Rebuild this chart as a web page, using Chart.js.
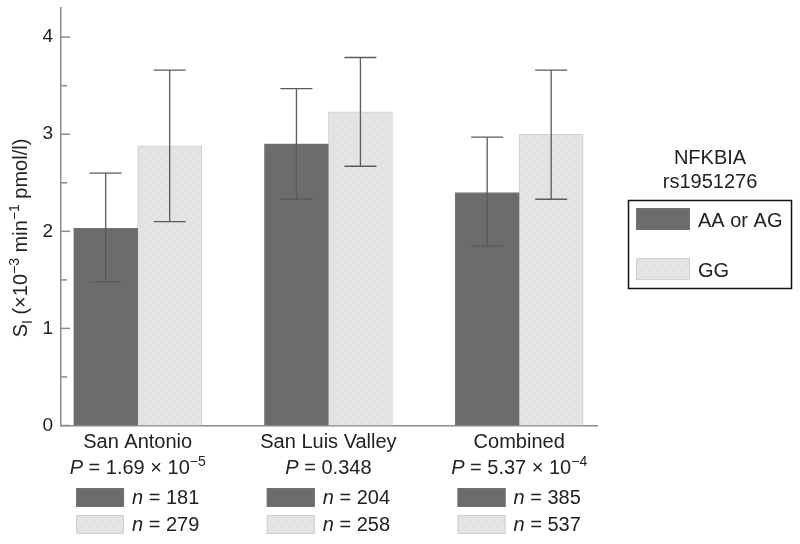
<!DOCTYPE html>
<html><head><meta charset="utf-8">
<script src="https://cdn.jsdelivr.net/npm/chart.js@4"></script>
<style>html,body{margin:0;padding:0;background:#fff}canvas{display:block}</style>
</head><body>
<canvas id="c" width="800" height="544"></canvas>
<script>
// ---------- data ----------
const categories = ['San Antonio', 'San Luis Valley', 'Combined'];
const pValues = [1.69e-5, 0.348, 5.37e-4];
const seriesLabels = ['AA or AG', 'GG'];
const legendTitle = ['NFKBIA', 'rs1951276'];
const meanAA = [2.03, 2.90, 2.40];
const lowAA  = [1.48, 2.33, 1.85];
const highAA = [2.60, 3.47, 2.97];
const meanGG = [2.88, 3.23, 3.00];
const lowGG  = [2.10, 2.67, 2.33];
const highGG = [3.66, 3.79, 3.66];
const nAA = [181, 204, 385];
const nGG = [279, 258, 537];
const yTicks = [0, 1, 2, 3, 4];

// ---------- styles ----------
const FONT = '"Liberation Sans", Arial, Helvetica, sans-serif';
const DARK = '#6c6c6c';
const DARK_BORDER = '#737373';
const LIGHT_BORDER = '#d0d0d0';
const AXIS = '#8c8c8c';

function hatch() {
  const p = document.createElement('canvas'); p.width = 8; p.height = 8;
  const g = p.getContext('2d');
  g.fillStyle = '#e4e4e4'; g.fillRect(0, 0, 8, 8);
  g.strokeStyle = 'rgba(210,210,210,0.35)'; g.lineWidth = 1;
  g.beginPath(); g.moveTo(-1, 9); g.lineTo(9, -1); g.stroke();
  return g.createPattern(p, 'repeat');
}
const LIGHT = hatch();

function fontFor(s, size) {
  return `${s.it ? 'italic ' : ''}${(s.sup || s.sub) ? Math.round(size * 0.68) : size}px ${FONT}`;
}
function richWidth(ctx, segs, size) {
  let w = 0;
  segs.forEach(s => { ctx.font = fontFor(s, size); w += ctx.measureText(s.t).width; });
  return w;
}
function drawRich(ctx, segs, x, y, align, size) {
  const w = richWidth(ctx, segs, size);
  let cx = align === 'center' ? x - w / 2 : align === 'right' ? x - w : x;
  ctx.textAlign = 'left'; ctx.textBaseline = 'alphabetic';
  segs.forEach(s => {
    ctx.font = fontFor(s, size);
    const dy = s.sup ? -size * 0.42 : s.sub ? size * 0.25 : 0;
    ctx.fillText(s.t, cx, y + dy);
    cx += ctx.measureText(s.t).width;
  });
  return w;
}
function pSegs(p) {
  if (p < 0.01) {
    const [m, e] = p.toExponential(2).split('e');
    return [{t: 'P', it: true}, {t: ' = ' + m + ' \u00d7 10'}, {t: '\u2212' + String(Math.abs(+e)), sup: true}];
  }
  return [{t: 'P', it: true}, {t: ' = ' + String(p)}];
}

const decor = {
  id: 'decor',
  afterDatasetsDraw(chart) {
    const ctx = chart.ctx, ys = chart.scales.y;
    const lows = [lowAA, lowGG], highs = [highAA, highGG];
    ctx.save();
    ctx.strokeStyle = '#5a5a5a'; ctx.lineWidth = 1.3;
    [0, 1].forEach(di => {
      chart.getDatasetMeta(di).data.forEach((el, i) => {
        const yl = ys.getPixelForValue(lows[di][i]), yh = ys.getPixelForValue(highs[di][i]);
        const hw = el.width / 4;
        ctx.beginPath();
        ctx.moveTo(el.x, yl); ctx.lineTo(el.x, yh);
        ctx.moveTo(el.x - hw, yl); ctx.lineTo(el.x + hw, yl);
        ctx.moveTo(el.x - hw, yh); ctx.lineTo(el.x + hw, yh);
        ctx.stroke();
      });
    });
    ctx.restore();
  },
  afterDraw(chart) {
    const ctx = chart.ctx, xs = chart.scales.x, ys = chart.scales.y;
    const left = chart.chartArea.left;
    ctx.save();
    // inward y ticks
    ctx.strokeStyle = AXIS; ctx.lineWidth = 1.5;
    yTicks.forEach((v, k) => {
      const py = ys.getPixelForValue(v);
      ctx.beginPath(); ctx.moveTo(left, py); ctx.lineTo(left + 9, py); ctx.stroke();
      if (k < yTicks.length - 1) {
        const pm = ys.getPixelForValue((v + yTicks[k + 1]) / 2);
        ctx.beginPath(); ctx.moveTo(left, pm); ctx.lineTo(left + 6, pm); ctx.stroke();
      }
    });
    // y title (rotated)
    ctx.fillStyle = '#222';
    ctx.save();
    ctx.translate(27, 238); ctx.rotate(-Math.PI / 2);
    drawRich(ctx, [{t: 'S'}, {t: 'I', sub: true}, {t: ' (\u00d710'}, {t: '\u22123', sup: true},
      {t: ' min'}, {t: '\u22121', sup: true}, {t: ' pmol/l)'}], 0, 0, 'center', 20);
    ctx.restore();
    // category labels
    categories.forEach((c, i) => {
      const cx = xs.getPixelForValue(i);
      ctx.fillStyle = '#222';
      ctx.font = `20px ${FONT}`; ctx.textAlign = 'center'; ctx.textBaseline = 'alphabetic';
      ctx.fillText(c, cx, 448);
      drawRich(ctx, pSegs(pValues[i]), cx, 474, 'center', 20);
      // n legend rows
      const rows = [[nAA[i], DARK, DARK_BORDER, 488], [nGG[i], LIGHT, LIGHT_BORDER, 515]];
      const segW = Math.max(...rows.map(r => richWidth(ctx, [{t: 'n', it: true}, {t: ' = ' + r[0]}], 20)));
      const total = 48 + 8 + segW;
      const x0 = cx - total / 2;
      rows.forEach(r => {
        ctx.fillStyle = r[1]; ctx.fillRect(x0, r[3], 48, 19);
        ctx.strokeStyle = r[2]; ctx.lineWidth = 1; ctx.strokeRect(x0 + 0.5, r[3] + 0.5, 47, 18);
        ctx.fillStyle = '#222';
        drawRich(ctx, [{t: 'n', it: true}, {t: ' = ' + r[0]}], x0 + 56, r[3] + 16, 'left', 20);
      });
    });
    // right legend
    ctx.fillStyle = '#222'; ctx.font = `20px ${FONT}`; ctx.textAlign = 'center'; ctx.textBaseline = 'alphabetic';
    ctx.fillText(legendTitle[0], 710, 164);
    ctx.fillText(legendTitle[1], 710, 188);
    ctx.strokeStyle = '#111'; ctx.lineWidth = 1.5;
    ctx.strokeRect(628.5, 200.5, 163, 88);
    const lg = [[DARK, DARK_BORDER, 208], [LIGHT, LIGHT_BORDER, 258]];
    lg.forEach((r, k) => {
      ctx.fillStyle = r[0]; ctx.fillRect(636, r[2], 54, 22);
      ctx.strokeStyle = r[1]; ctx.lineWidth = 1; ctx.strokeRect(636.5, r[2] + 0.5, 53, 21);
      ctx.fillStyle = '#222'; ctx.textAlign = 'left'; ctx.font = `20px ${FONT}`;
      ctx.fillText(seriesLabels[k], 698, r[2] + 19);
    });
    ctx.restore();
  }
};

new Chart(document.getElementById('c'), {
  type: 'bar',
  data: {
    datasets: [
      {label: seriesLabels[0], data: meanAA.map((v, i) => ({x: i, y: v})),
       backgroundColor: DARK, borderColor: DARK_BORDER, borderWidth: 1},
      {label: seriesLabels[1], data: meanGG.map((v, i) => ({x: i, y: v})),
       backgroundColor: LIGHT, borderColor: LIGHT_BORDER, borderWidth: 1}
    ]
  },
  options: {
    responsive: false, animation: false, devicePixelRatio: 1,
    barThickness: 64,
    layout: {padding: {top: 8, right: 203, left: 0, bottom: 0}},
    plugins: {legend: {display: false}, tooltip: {enabled: false}},
    scales: {
      x: {
        type: 'linear', min: -0.402, max: 2.408, offset: false,
        grid: {display: false, drawTicks: false},
        border: {display: true, color: AXIS, width: 1.5},
        ticks: {display: false},
        afterFit: s => { s.height = 118.5; s.paddingLeft = 0; s.paddingRight = 0; }
      },
      y: {
        min: 0, max: 4.3,
        grid: {display: false, drawTicks: false},
        border: {display: true, color: AXIS, width: 1.5},
        ticks: {stepSize: 1, includeBounds: false, padding: 8, color: '#222',
          font: {family: FONT, size: 19},
          callback: v => yTicks.includes(v) ? String(v) : ''},
        afterFit: s => { s.width = 61; s.paddingTop = 0; s.paddingBottom = 0; }
      }
    }
  },
  plugins: [decor]
});
</script>
</body></html>
